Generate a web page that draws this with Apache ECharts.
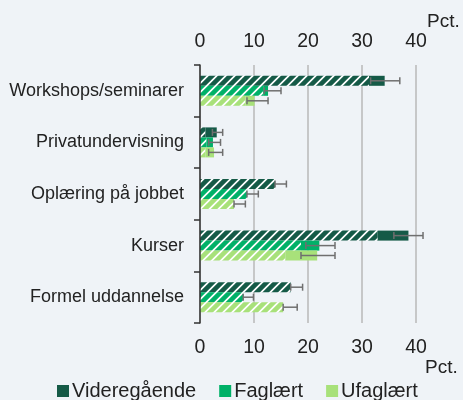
<!DOCTYPE html>
<html>
<head>
<meta charset="utf-8">
<script src="https://cdn.jsdelivr.net/npm/echarts@6/dist/echarts.min.js"></script>
<style>
html,body{margin:0;padding:0;background:#eff3f7;}
#c{width:463px;height:400px;}
</style>
</head>
<body>
<div id="c"></div>
<script>
const categories = ['Workshops/seminarer','Privatundervisning','Oplæring på jobbet','Kurser','Formel uddannelse'];
const tickValues = [0,10,20,30,40];
const seriesNames = ['Videregående','Faglært','Ufaglært'];

const vidHatch = [31.3, 1.0, 13.9, 32.9, 16.8];
const vidSolid = [2.9, 2.1, 0, 5.7, 0];
const fagHatch = [11.7, 1.2, 8.7, 18.7, 8.0];
const fagSolid = [0.9, 1.2, 0, 3.4, 0];
const ufaHatch = [8.4, 1.0, 6.3, 15.8, 15.4];
const ufaSolid = [1.7, 1.6, 0, 5.9, 0];

const vidLow = [31.6, 2.3, 13.9, 35.9, 16.8];
const vidHigh = [37.0, 4.2, 16.0, 41.3, 19.0];
const fagLow = [11.9, 1.6, 8.7, 19.6, 8.0];
const fagHigh = [15.0, 3.8, 10.8, 25.0, 9.9];
const ufaLow = [8.7, 1.6, 6.3, 18.7, 15.4];
const ufaHigh = [12.6, 4.2, 8.4, 25.0, 18.0];

const colors = ['#155a47', '#00b168', '#a8e17a'];
const FONT = 'Liberation Sans, Arial, sans-serif';

function hatch(color){
  const s = 9;
  const cv = document.createElement('canvas');
  cv.width = s; cv.height = s;
  const ctx = cv.getContext('2d');
  ctx.fillStyle = '#ffffff';
  ctx.fillRect(0,0,s,s);
  ctx.strokeStyle = color;
  ctx.lineWidth = 4.6;
  ctx.beginPath();
  ctx.moveTo(-s/2, s/2); ctx.lineTo(s/2, -s/2);
  ctx.moveTo(0, s); ctx.lineTo(s, 0);
  ctx.moveTo(s/2, s*1.5); ctx.lineTo(s*1.5, s/2);
  ctx.stroke();
  return {image: cv, repeat: 'repeat'};
}

function errSeries(low, high, offset){
  return {
    type: 'custom',
    xAxisIndex: 0,
    yAxisIndex: 0,
    z: 10,
    silent: true,
    data: low.map((l,i)=>[l, high[i], i]),
    encode: {x: [0,1], y: 2},
    renderItem: function(params, api){
      const lo = api.value(0), hi = api.value(1), ci = api.value(2);
      const p1 = api.coord([lo, ci]);
      const p2 = api.coord([hi, ci]);
      const y = p1[1] + offset;
      const st = {stroke: '#6f6f6f', lineWidth: 1.5};
      return {type: 'group', children: [
        {type:'line', shape:{x1:p1[0], y1:y, x2:p2[0], y2:y}, style: st},
        {type:'line', shape:{x1:p1[0], y1:y-3.5, x2:p1[0], y2:y+3.5}, style: st},
        {type:'line', shape:{x1:p2[0], y1:y-3.5, x2:p2[0], y2:y+3.5}, style: st}
      ]};
    }
  };
}

function barPair(name, hatchData, solidData, color, stack){
  return [
    {name: name + ' ', type:'bar', stack: stack, barWidth: 10, barGap: '0%',
     data: hatchData, itemStyle: {color: hatch(color)}, silent: true},
    {name: name, type:'bar', stack: stack, barWidth: 10, barGap: '0%',
     data: solidData, itemStyle: {color: color}, silent: true}
  ];
}

const chart = echarts.init(document.getElementById('c'), null, {renderer: 'canvas'});
const axisCommon = {
  type: 'value', min: 0, max: 40, interval: 10,
  axisLine: {show: false}, axisTick: {show: false},
  axisLabel: {fontSize: 19.5, color: '#222', fontFamily: FONT}
};
chart.setOption({
  backgroundColor: '#eff3f7',
  animation: false,
  textStyle: {fontFamily: FONT},
  grid: {left: 200, right: 47, top: 65, bottom: 77},
  xAxis: [
    Object.assign({}, axisCommon, {position: 'top',
      axisLabel: Object.assign({}, axisCommon.axisLabel, {margin: 13}),
      splitLine: {show: true, lineStyle: {color: '#b8b8b8', width: 1.5}}}),
    Object.assign({}, axisCommon, {position: 'bottom',
      axisLabel: Object.assign({}, axisCommon.axisLabel, {margin: 15}),
      splitLine: {show: false}})
  ],
  yAxis: {
    type: 'category', data: categories, inverse: true,
    axisLine: {show: true, lineStyle: {color: '#333', width: 1.5}},
    axisTick: {show: true, length: 6, lineStyle: {color: '#333', width: 1.5}},
    axisLabel: {fontSize: 18, color: '#222', margin: 16},
    z: 5
  },
  legend: {
    data: seriesNames, left: 52, top: 376, itemWidth: 12, itemHeight: 12, itemGap: 23,
    icon: 'rect', textStyle: {fontSize: 20, color: '#222', padding: [0,0,0,-2]}
  },
  graphic: [
    {type:'text', left: 427, top: 12, style:{text:'Pct.', fontSize: 19, fill:'#222', fontFamily: FONT}},
    {type:'text', left: 425, top: 358, style:{text:'Pct.', fontSize: 19, fill:'#222', fontFamily: FONT}}
  ],
  series: [].concat(
    barPair(seriesNames[0], vidHatch, vidSolid, colors[0], 'vid'),
    barPair(seriesNames[1], fagHatch, fagSolid, colors[1], 'fag'),
    barPair(seriesNames[2], ufaHatch, ufaSolid, colors[2], 'ufa'),
    [errSeries(vidLow, vidHigh, -10), errSeries(fagLow, fagHigh, 0), errSeries(ufaLow, ufaHigh, 10)]
  )
});
</script>
</body>
</html>
